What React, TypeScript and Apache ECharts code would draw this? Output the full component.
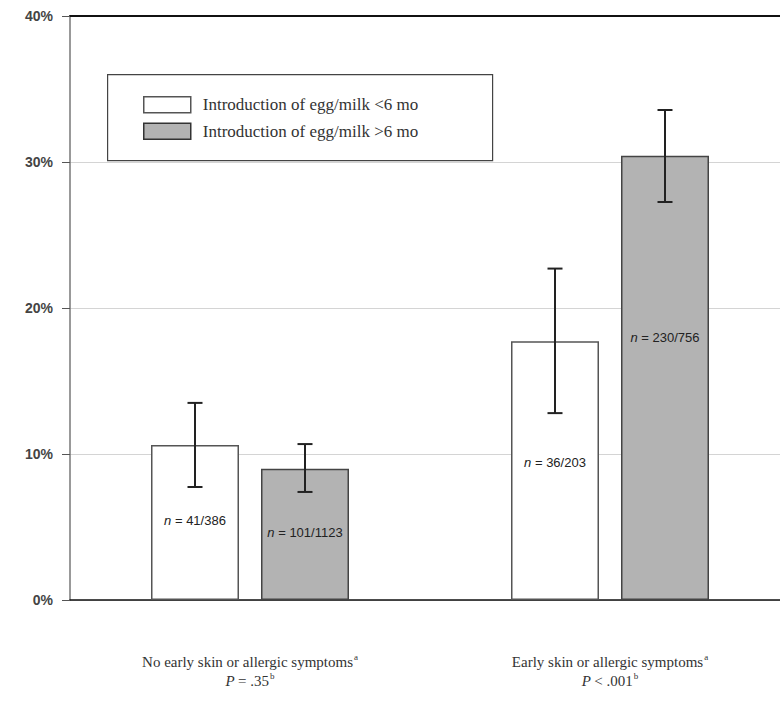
import React, { useEffect, useRef } from "react";
import * as echarts from "echarts";

const categories = ["No early skin or allergic symptoms", "Early skin or allergic symptoms"];
const pLabels = ["= .35", "< .001"];
const seriesNames = ["Introduction of egg/milk <6 mo", "Introduction of egg/milk >6 mo"];
const earlyValues = [10.62, 17.73];
const lateValues = [8.99, 30.42];
const earlyLow = [7.74, 12.8];
const earlyHigh = [13.5, 22.7];
const lateLow = [7.4, 27.26];
const lateHigh = [10.68, 33.56];
const earlyN = ["41/386", "36/203"];
const lateN = ["101/1123", "230/756"];
const yTicks = [0, 10, 20, 30, 40];

const serif = "'Liberation Serif', 'DejaVu Serif', serif";
const sans = "'Liberation Sans', Arial, sans-serif";

export default function App() {
  const ref = useRef<HTMLDivElement>(null);
  useEffect(() => {
    if (!ref.current) return;
    const chart = echarts.init(ref.current, null, { renderer: "svg" });

    const errSeries = (low: number[], high: number[], offset: number) => ({
      type: "custom",
      silent: true,
      z: 5,
      data: low.map((l, i) => [i, l, high[i]]),
      renderItem: (params: any, api: any) => {
        const i = api.value(0);
        const pLow = api.coord([i, api.value(1)]);
        const pHigh = api.coord([i, api.value(2)]);
        const x = pLow[0] + offset;
        const cap = 7.5;
        const style = { stroke: "#222", lineWidth: 2 };
        return {
          type: "group",
          children: [
            { type: "line", shape: { x1: x, y1: pLow[1], x2: x, y2: pHigh[1] }, style },
            { type: "line", shape: { x1: x - cap, y1: pLow[1], x2: x + cap, y2: pLow[1] }, style },
            { type: "line", shape: { x1: x - cap, y1: pHigh[1], x2: x + cap, y2: pHigh[1] }, style },
          ],
        };
      },
    });

    const rich = {
      i: { fontStyle: "italic", fontFamily: sans, fontSize: 13, color: "#222" },
      t: { fontFamily: sans, fontSize: 13, color: "#222" },
    };
    const earlyOffsets = [[0, -2], [0, -8]];
    const lateOffsets = [[0, -2], [0, -40]];

    const barData = (vals: number[], ns: string[], offs: number[][]) =>
      vals.map((v, i) => ({
        value: v,
        label: { offset: offs[i], formatter: `{i|n}{t| = ${ns[i]}}` },
      }));

    const option: any = {
      animation: false,
      grid: { left: 70, top: 16, right: 0, bottom: 102, containLabel: false },
      legend: {
        orient: "vertical",
        left: 143,
        top: 96,
        itemWidth: 47,
        itemHeight: 16,
        itemGap: 9,
        padding: 0,
        icon: "rect",
        selectedMode: false,
        textStyle: { fontFamily: serif, fontSize: 17, color: "#333", padding: [0, 0, 0, 7] },
        data: [
          { name: seriesNames[0], itemStyle: { color: "#fff", borderColor: "#555", borderWidth: 1.5 } },
          { name: seriesNames[1], itemStyle: { color: "#b3b3b3", borderColor: "#333", borderWidth: 1.5 } },
        ],
      },
      graphic: [
        {
          type: "rect",
          left: 107,
          top: 74,
          shape: { width: 385, height: 86 },
          style: { fill: "#fff", stroke: "#444", lineWidth: 1.2 },
          z: -1,
        },
      ],
      xAxis: [
        {
          type: "category",
          data: categories,
          axisLine: { lineStyle: { color: "#111", width: 1.5 } },
          axisTick: { alignWithLabel: true, length: 6, lineStyle: { color: "#333" } },
          axisLabel: {
            margin: 52,
            lineHeight: 19,
            formatter: (v: string, idx: number) => `{t|${v}}{s|a}\n{i|P} {t|${pLabels[idx]}}{s|b}`,
            rich: {
              t: { fontFamily: serif, fontSize: 15, color: "#333" },
              i: { fontFamily: serif, fontSize: 15, color: "#333", fontStyle: "italic" },
              s: { fontFamily: serif, fontSize: 9, color: "#333", verticalAlign: "top", padding: [0, 0, 8, 1] },
            },
          },
        },
        {
          type: "category",
          position: "top",
          data: categories,
          axisLine: { lineStyle: { color: "#111", width: 2 } },
          axisTick: { show: false },
          axisLabel: { show: false },
        },
      ],
      yAxis: {
        type: "value",
        min: yTicks[0],
        max: yTicks[yTicks.length - 1],
        interval: 10,
        axisLine: { show: true, lineStyle: { color: "#777", width: 1.5 } },
        axisTick: { show: true, inside: false, length: 8, lineStyle: { color: "#555" } },
        axisLabel: {
          margin: 17,
          formatter: "{value}%",
          fontFamily: sans,
          fontWeight: "bold",
          fontSize: 14,
          color: "#444",
        },
        splitLine: { lineStyle: { color: "#d4d4d4", width: 1 } },
      },
      series: [
        {
          name: seriesNames[0],
          type: "bar",
          barWidth: 88,
          barGap: "25%",
          data: barData(earlyValues, earlyN, earlyOffsets),
          itemStyle: { color: "#fff", borderColor: "#555", borderWidth: 1.5 },
          label: { show: true, position: "inside", rich },
        },
        {
          name: seriesNames[1],
          type: "bar",
          barWidth: 88,
          data: barData(lateValues, lateN, lateOffsets),
          itemStyle: { color: "#b3b3b3", borderColor: "#444", borderWidth: 1.5 },
          label: { show: true, position: "inside", rich },
        },
        errSeries(earlyLow, earlyHigh, -55),
        errSeries(lateLow, lateHigh, 55),
      ],
    };
    chart.setOption(option);
    return () => chart.dispose();
  }, []);
  return (
    <div style={{ width: 780, height: 702, position: "absolute", left: 0, top: 0, overflow: "hidden" }}>
      <div ref={ref} style={{ width: 790, height: 702 }} />
    </div>
  );
}
